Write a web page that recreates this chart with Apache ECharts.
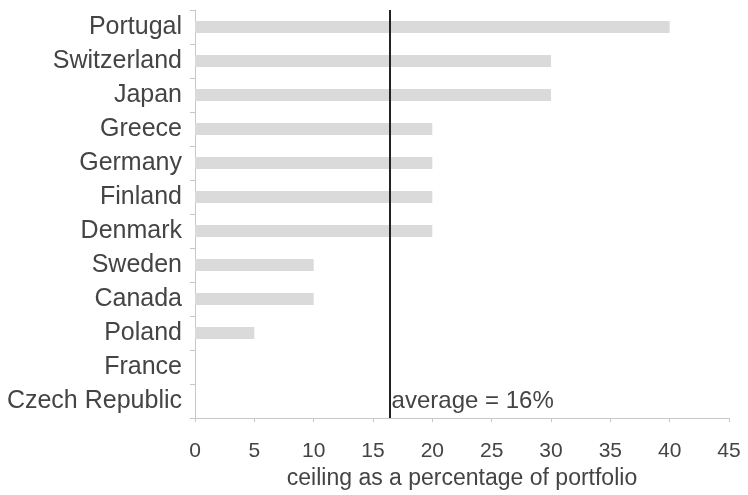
<!DOCTYPE html>
<html>
<head>
<meta charset="utf-8">
<script src="https://cdn.jsdelivr.net/npm/echarts@6/dist/echarts.min.js"></script>
<style>
html,body{margin:0;padding:0;background:#fff;}
#c{width:748px;height:495px;}
</style>
</head>
<body>
<div id="c"></div>
<script>
var countries = ["Portugal","Switzerland","Japan","Greece","Germany","Finland","Denmark","Sweden","Canada","Poland","France","Czech Republic"];
var ceilings = [40,30,30,20,20,20,20,10,10,5,0,0];
var averageValue = 16.4;
var averageLabel = "average = 16%";
var xTicks = [0,5,10,15,20,25,30,35,40,45];

var chart = echarts.init(document.getElementById('c'));
var font = 'Liberation Sans, Arial, sans-serif';
chart.setOption({
  animation: false,
  grid: {left: 195, right: 19, top: 10, bottom: 71},
  xAxis: {
    type: 'value', min: xTicks[0], max: xTicks[xTicks.length-1], interval: 5,
    axisLine: {show: true, lineStyle: {color: '#c8c8c8', width: 1}},
    axisTick: {show: true, length: 4, lineStyle: {color: '#c8c8c8'}},
    splitLine: {show: false},
    axisLabel: {color: '#444', fontSize: 21, fontFamily: font, margin: 23},
    name: 'ceiling as a percentage of portfolio',
    nameLocation: 'middle', nameGap: 45,
    nameTextStyle: {color: '#444', fontSize: 23, fontFamily: font}
  },
  yAxis: {
    type: 'category', data: countries, inverse: true,
    axisLine: {show: true, lineStyle: {color: '#c8c8c8', width: 1}},
    axisTick: {show: true, length: 5, lineStyle: {color: '#c8c8c8'}},
    axisLabel: {color: '#444', fontSize: 25, fontFamily: font, margin: 13}
  },
  series: [{
    type: 'bar', data: ceilings, barWidth: 12,
    itemStyle: {color: '#dadada'},
    markLine: {
      silent: true, symbol: 'none',
      lineStyle: {color: '#222', width: 2, type: 'solid'},
      label: {show: false},
      data: [{xAxis: averageValue}]
    },
    markPoint: {
      silent: true, symbol: 'circle', symbolSize: 0,
      label: {
        show: true, position: 'right', distance: 2, formatter: averageLabel,
        color: '#444', fontSize: 24, fontFamily: font
      },
      data: [{coord: [averageValue, countries[countries.length-1]]}]
    }
  }]
});
</script>
</body>
</html>
